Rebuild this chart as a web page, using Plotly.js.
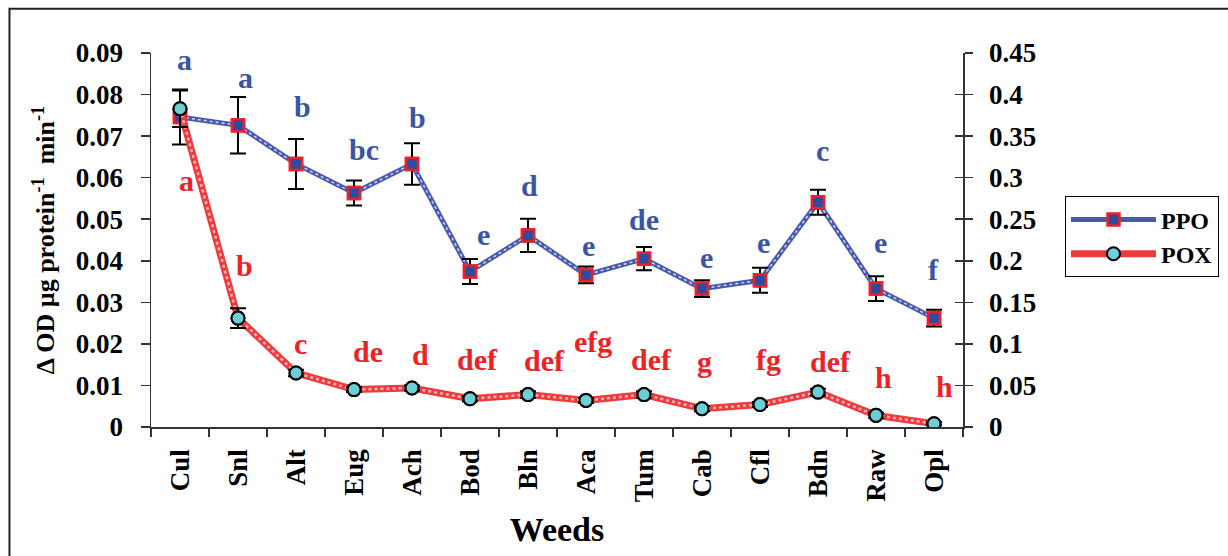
<!DOCTYPE html>
<html>
<head>
<meta charset="utf-8">
<script src="https://cdn.plot.ly/plotly-3.0.1.min.js"></script>
<style>
html,body{margin:0;padding:0;background:#fff;}
#chart{width:1228px;height:556px;}
</style>
</head>
<body>
<div id="chart"></div>
<script>
// ---- data ----
const weeds = ["Cul","Snl","Alt","Eug","Ach","Bod","Bln","Aca","Tum","Cab","Cfl","Bdn","Raw","Opl"];
// PPO (left axis)
const ppo    = [0.0746,0.0726,0.0633,0.0563,0.0633,0.0374,0.0461,0.0366,0.0405,0.0333,0.0353,0.0541,0.0333,0.0262];
const ppoErr = [0.0066,0.0068,0.0060,0.0030,0.0050,0.0030,0.0040,0.0020,0.0028,0.0020,0.0030,0.0030,0.0030,0.0020];
// POX (right axis)
const pox    = [0.383,0.131,0.065,0.045,0.047,0.034,0.039,0.032,0.039,0.022,0.027,0.042,0.014,0.004];
const poxErr = [0.022,0.012,0.004,0.003,0.003,0.003,0.004,0.003,0.004,0.003,0.003,0.004,0.003,0.002];
// significance letters
const ppoLetters = ["a","a","b","bc","b","e","d","e","de","e","e","c","e","f"];
const poxLetters = ["a","b","c","de","d","def","def","efg","def","g","fg","def","h","h"];
const leftTicks  = [0,0.01,0.02,0.03,0.04,0.05,0.06,0.07,0.08,0.09];
const leftTickText = ["0","0.01","0.02","0.03","0.04","0.05","0.06","0.07","0.08","0.09"];
const rightTicks = [0,0.05,0.1,0.15,0.2,0.25,0.3,0.35,0.4,0.45];
const rightTickText = ["0","0.05","0.1","0.15","0.2","0.25","0.3","0.35","0.4","0.45"];

// ---- label placement (layout only) ----
const ppoLabelY = [0.0884,0.0840,0.0771,0.0667,0.0744,0.0463,0.0581,0.0436,0.0499,0.0407,0.0443,0.0665,0.0443,0.0378];
const ppoLabelDx = [4,7,6,10,5,13,1,2,0,4,3,4,4,-1];
const poxLabelY = [0.0593,0.0388,0.0202,0.0182,0.0174,0.0162,0.0160,0.0206,0.0162,0.0158,0.0162,0.0158,0.0118,0.0098];
const poxLabelDx = [6,6,4,14,8,7,16,7,7,2,8,12,7,10];

const FONT = "'Liberation Serif', 'Times New Roman', Times, serif";
const BLUE = "#3a55a6";
const RED = "#ec2227";
const PPO_LINE = "#4659ad";
const POX_LINE = "#ef3a3d";

const traces = [
  // PPO: legend entry (line + marker), drawn underneath
  { x: weeds, y: ppo, yaxis: "y", type: "scatter", mode: "lines+markers", name: "PPO",
    line: {color: PPO_LINE, width: 5},
    marker: {symbol: "square", size: 12, color: "#2f4a9e", line: {color: RED, width: 2.5}} },
  { x: weeds, y: ppo, yaxis: "y", type: "scatter", mode: "lines", showlegend: false, hoverinfo: "skip",
    line: {color: "rgba(225,230,250,0.85)", width: 1.6, dash: "dot"} },
  { x: weeds, y: ppo, yaxis: "y", type: "scatter", mode: "markers", showlegend: false,
    marker: {symbol: "square", size: 12, color: "#2f4a9e", line: {color: RED, width: 2.5}},
    error_y: {type: "data", array: ppoErr, visible: true, color: "#000", thickness: 2, width: 8} },
  // POX
  { x: weeds, y: pox, yaxis: "y2", type: "scatter", mode: "lines+markers", name: "POX",
    line: {color: POX_LINE, width: 7},
    marker: {symbol: "circle", size: 13, color: "#6ccfd6", line: {color: "#000", width: 2}} },
  { x: weeds, y: pox, yaxis: "y2", type: "scatter", mode: "lines", showlegend: false, hoverinfo: "skip",
    line: {color: "rgba(255,195,195,0.9)", width: 2.5, dash: "dot"} },
  { x: weeds, y: pox, yaxis: "y2", type: "scatter", mode: "markers", showlegend: false,
    marker: {symbol: "circle", size: 13, color: "#6ccfd6", line: {color: "#000", width: 2}},
    error_y: {type: "data", array: poxErr, visible: true, color: "#000", thickness: 2, width: 8} },
  // activates crossing ticks on right axis
  { x: weeds, y: pox, yaxis: "y3", type: "scatter", mode: "none", showlegend: false, hoverinfo: "skip" }
];

const annotations = [];
weeds.forEach((w, i) => {
  annotations.push({x: w, y: ppoLabelY[i], xref: "x", yref: "y", text: ppoLetters[i],
    showarrow: false, xshift: ppoLabelDx[i], font: {family: FONT, size: 30, color: BLUE, weight: "bold"}});
  annotations.push({x: w, y: poxLabelY[i], xref: "x", yref: "y", text: poxLetters[i],
    showarrow: false, xshift: poxLabelDx[i], font: {family: FONT, size: 30, color: RED, weight: "bold"}});
});

const tickFont = {family: FONT, size: 27, color: "#000", weight: "bold"};

const layout = {
  width: 1228, height: 556,
  margin: {l: 151, r: 265, t: 53, b: 129, autoexpand: false},
  paper_bgcolor: "#fff", plot_bgcolor: "#fff",
  showlegend: true,
  font: {family: FONT},
  xaxis: {
    type: "category", range: [-0.5, 13.5], tickson: "boundaries",
    ticks: "outside", ticklen: 8, tickwidth: 1.5, tickcolor: "#333",
    showline: true, linecolor: "#333", linewidth: 1.5, showgrid: false, zeroline: false,
    tickangle: -90, tickfont: tickFont, ticklabelstandoff: 10,
    title: {text: "Weeds", font: {family: FONT, size: 34, color: "#000", weight: "bold"}, standoff: 16}
  },
  yaxis: {
    range: [0, 0.09], tickvals: leftTicks, ticktext: leftTickText,
    ticks: "outside", ticklen: 9, tickwidth: 1.5, tickcolor: "#333",
    showline: true, linecolor: "#333", linewidth: 1.5, showgrid: false, zeroline: false,
    tickfont: tickFont, ticklabelstandoff: 12,
    title: {text: "\u0394 OD \u00b5g protein<sup>-1</sup>  min<sup>-1</sup>",
      font: {family: FONT, size: 26, color: "#000", weight: "bold"}, standoff: 13}
  },
  yaxis2: {
    overlaying: "y", side: "right", anchor: "x",
    range: [0, 0.45], tickvals: rightTicks, ticktext: rightTickText,
    ticks: "outside", ticklen: 8, tickwidth: 1.5, tickcolor: "#333",
    showline: true, linecolor: "#333", linewidth: 1.5, showgrid: false, zeroline: false,
    tickfont: tickFont, ticklabelstandoff: 11
  },
  yaxis3: {
    overlaying: "y", side: "right", anchor: "x",
    range: [0, 0.45], tickvals: rightTicks, ticks: "inside", ticklen: 8, tickwidth: 1.5, tickcolor: "#333",
    showticklabels: false, showline: false, showgrid: false, zeroline: false
  },
  legend: {
    x: 1.1256, y: 0.6166, xanchor: "left", yanchor: "top",
    bordercolor: "#000", borderwidth: 1, bgcolor: "#fff",
    font: {family: FONT, size: 24, color: "#000", weight: "bold"},
    itemwidth: 85, tracegroupgap: 0
  },
  annotations: annotations,
  shapes: [
    {type: "rect", xref: "paper", yref: "paper", x0: -0.1743, x1: 1.35, y0: -0.4, y1: 1.1185,
     line: {color: "#222", width: 2}, fillcolor: "rgba(0,0,0,0)", layer: "below"}
  ]
};

Plotly.newPlot("chart", traces, layout, {displayModeBar: false, staticPlot: true});
</script>
</body>
</html>
